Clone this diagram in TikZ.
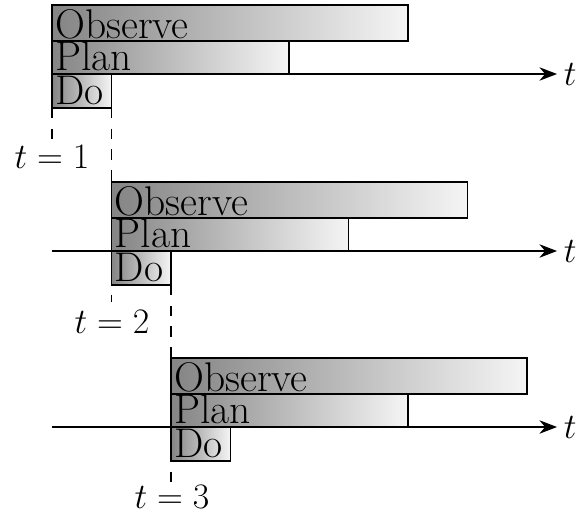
\documentclass[tikz,border=0pt]{standalone}
\usetikzlibrary{arrows.meta}
\begin{document}
\begin{tikzpicture}[x=0.016949cm,y=-0.016949cm,
  bar/.style={draw=black, line width=0.6pt, left color=black!48, right color=black!4},
  lbl/.style={anchor=base west, inner sep=0pt, font=\fontsize{20}{22}\selectfont},
  axis/.style={line width=0.6pt, -{Stealth[length=8.5pt,width=6.5pt]}},
  tlbl/.style={inner sep=0pt, font=\fontsize{19}{21}\selectfont},
  guide/.style={line width=0.6pt, dash pattern=on 5pt off 5pt}]
\useasboundingbox (0,0) rectangle (578,517);
\foreach \i/\dx/\dy in {1/0/0,2/59.5/177,3/119/353}{
  \coordinate (as\i) at (52,74+\dy);
  \coordinate (ae\i) at (557,74+\dy);
  \draw[axis] (as\i) -- (ae\i) node[tlbl, anchor=west, xshift=3pt] (tt\i) {$t$};
  \path[bar] (52+\dx,5+\dy) rectangle (408+\dx,41+\dy);
  \path[bar] (52+\dx,41+\dy) rectangle (289+\dx,74+\dy);
  \path[bar] (52+\dx,74+\dy) rectangle (111.5+\dx,108+\dy);
  \node[lbl] (obs\i) at (55+\dx,38.5+\dy) {Observe};
  \node[lbl] (plan\i) at (55+\dx,70.5+\dy) {Plan};
  \node[lbl] (do\i) at (55+\dx,104+\dy) {Do};
}
\node[tlbl] (l1) at (52,157) {$t=1$};
\node[tlbl] (l2) at (112,322) {$t=2$};
\node[tlbl] (l3) at (172,497) {$t=3$};
\coordinate (d1a) at (52,108);
\coordinate (d1b) at (52,140);
\coordinate (d2a) at (111.5,108);
\coordinate (d2b) at (111.5,302);
\coordinate (d3a) at (171,285);
\coordinate (d3b) at (171,482);
\draw[guide] (d1a) -- (d1b);
\draw[guide] (d2a) -- (d2b);
\draw[guide] (d3a) -- (d3b);
\end{tikzpicture}
\end{document}
